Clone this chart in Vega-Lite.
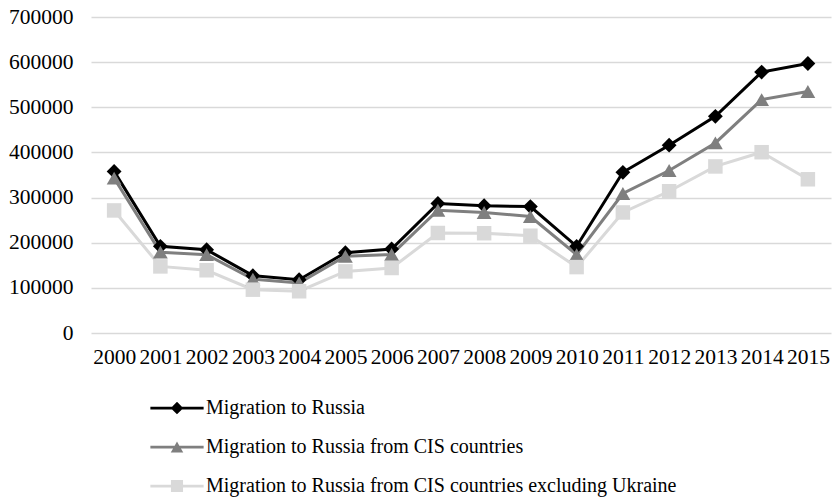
{
  "$schema": "https://vega.github.io/schema/vega-lite/v6.json",
  "width": 740,
  "height": 316,
  "autosize": "none",
  "padding": {"left": 91, "top": 17, "right": 3, "bottom": 166},
  "background": "white",
  "config": {
    "view": {"stroke": null},
    "font": "Liberation Serif",
    "axis": {"labelFont": "Liberation Serif", "labelFontSize": 21.5, "labelColor": "#000000"},
    "legend": {"labelFont": "Liberation Serif", "labelFontSize": 20, "labelColor": "#000000"}
  },
  "data": {
    "values": [
      {"year": "2000", "series": "Migration to Russia", "value": 358000},
      {"year": "2001", "series": "Migration to Russia", "value": 192000},
      {"year": "2002", "series": "Migration to Russia", "value": 184500},
      {"year": "2003", "series": "Migration to Russia", "value": 127000},
      {"year": "2004", "series": "Migration to Russia", "value": 118000},
      {"year": "2005", "series": "Migration to Russia", "value": 178000},
      {"year": "2006", "series": "Migration to Russia", "value": 186000},
      {"year": "2007", "series": "Migration to Russia", "value": 287000},
      {"year": "2008", "series": "Migration to Russia", "value": 282000},
      {"year": "2009", "series": "Migration to Russia", "value": 280000},
      {"year": "2010", "series": "Migration to Russia", "value": 192000},
      {"year": "2011", "series": "Migration to Russia", "value": 356000},
      {"year": "2012", "series": "Migration to Russia", "value": 416000},
      {"year": "2013", "series": "Migration to Russia", "value": 480000},
      {"year": "2014", "series": "Migration to Russia", "value": 578000},
      {"year": "2015", "series": "Migration to Russia", "value": 597000},
      {"year": "2000", "series": "Migration to Russia from CIS countries", "value": 343000},
      {"year": "2001", "series": "Migration to Russia from CIS countries", "value": 179000},
      {"year": "2002", "series": "Migration to Russia from CIS countries", "value": 173500},
      {"year": "2003", "series": "Migration to Russia from CIS countries", "value": 119500},
      {"year": "2004", "series": "Migration to Russia from CIS countries", "value": 111000},
      {"year": "2005", "series": "Migration to Russia from CIS countries", "value": 170000},
      {"year": "2006", "series": "Migration to Russia from CIS countries", "value": 174000},
      {"year": "2007", "series": "Migration to Russia from CIS countries", "value": 272000},
      {"year": "2008", "series": "Migration to Russia from CIS countries", "value": 267000},
      {"year": "2009", "series": "Migration to Russia from CIS countries", "value": 258000},
      {"year": "2010", "series": "Migration to Russia from CIS countries", "value": 173500},
      {"year": "2011", "series": "Migration to Russia from CIS countries", "value": 309000},
      {"year": "2012", "series": "Migration to Russia from CIS countries", "value": 360000},
      {"year": "2013", "series": "Migration to Russia from CIS countries", "value": 421000},
      {"year": "2014", "series": "Migration to Russia from CIS countries", "value": 517000},
      {"year": "2015", "series": "Migration to Russia from CIS countries", "value": 535000},
      {"year": "2000", "series": "Migration to Russia from CIS countries excluding Ukraine", "value": 271500},
      {"year": "2001", "series": "Migration to Russia from CIS countries excluding Ukraine", "value": 147500},
      {"year": "2002", "series": "Migration to Russia from CIS countries excluding Ukraine", "value": 139000},
      {"year": "2003", "series": "Migration to Russia from CIS countries excluding Ukraine", "value": 96000},
      {"year": "2004", "series": "Migration to Russia from CIS countries excluding Ukraine", "value": 92500},
      {"year": "2005", "series": "Migration to Russia from CIS countries excluding Ukraine", "value": 136500},
      {"year": "2006", "series": "Migration to Russia from CIS countries excluding Ukraine", "value": 144000},
      {"year": "2007", "series": "Migration to Russia from CIS countries excluding Ukraine", "value": 221500},
      {"year": "2008", "series": "Migration to Russia from CIS countries excluding Ukraine", "value": 221000},
      {"year": "2009", "series": "Migration to Russia from CIS countries excluding Ukraine", "value": 215500},
      {"year": "2010", "series": "Migration to Russia from CIS countries excluding Ukraine", "value": 146000},
      {"year": "2011", "series": "Migration to Russia from CIS countries excluding Ukraine", "value": 267000},
      {"year": "2012", "series": "Migration to Russia from CIS countries excluding Ukraine", "value": 314000},
      {"year": "2013", "series": "Migration to Russia from CIS countries excluding Ukraine", "value": 369000},
      {"year": "2014", "series": "Migration to Russia from CIS countries excluding Ukraine", "value": 400500},
      {"year": "2015", "series": "Migration to Russia from CIS countries excluding Ukraine", "value": 340500}
    ]
  },
  "encoding": {
    "x": {
      "field": "year",
      "type": "ordinal",
      "title": null,
      "scale": {"type": "point", "padding": 0.5},
      "axis": {"labelAngle": 0, "domain": false, "ticks": false, "tickSize": 0, "labelPadding": 13, "grid": false}
    },
    "y": {
      "field": "value",
      "type": "quantitative",
      "title": null,
      "scale": {"domain": [0, 700000], "nice": false, "zero": true},
      "axis": {
        "values": [0, 100000, 200000, 300000, 400000, 500000, 600000, 700000],
        "format": "d",
        "domain": false,
        "ticks": false,
        "tickSize": 0,
        "labelPadding": 18,
        "grid": true,
        "gridColor": "#d9d9d9",
        "gridWidth": 1.5
      }
    },
    "color": {
      "field": "series",
      "type": "nominal",
      "scale": {
        "domain": ["Migration to Russia", "Migration to Russia from CIS countries", "Migration to Russia from CIS countries excluding Ukraine"],
        "range": ["#000000", "#7f7f7f", "#d9d9d9"]
      },
      "legend": {
        "title": null,
        "orient": "none",
        "legendX": 75,
        "legendY": 380,
        "direction": "vertical",
        "padding": 0,
        "symbolSize": 484,
        "symbolType": {"expr": "datum.value === 'Migration to Russia' ? 'M-2.42,-0.125L-0.445,-0.125L0,-0.57L0.445,-0.125L2.42,-0.125L2.42,0.125L0.445,0.125L0,0.57L-0.445,0.125L-2.42,0.125Z' : (datum.value === 'Migration to Russia from CIS countries' ? 'M-2.42,-0.125L-0.214,-0.125L0,-0.5L0.214,-0.125L2.42,-0.125L2.42,0.125L0.356,0.125L0.57,0.5L-0.57,0.5L-0.356,0.125L-2.42,0.125Z' : 'M-2.42,-0.125L-0.55,-0.125L-0.55,-0.55L0.55,-0.55L0.55,-0.125L2.42,-0.125L2.42,0.125L0.55,0.125L0.55,0.55L-0.55,0.55L-0.55,0.125L-2.42,0.125Z')"},
        "symbolStrokeWidth": 0,
        "symbolFillColor": "#000000",
        "labelOffset": 18,
        "rowPadding": 18,
        "labelLimit": 600,
        "encode": {
          "symbols": {
            "enter": {
              "fill": {"scale": "color", "field": "value"},
              "fillOpacity": {"value": 1},
              "strokeWidth": {"value": 0}
            },
            "update": {
              "fill": {"scale": "color", "field": "value"},
              "fillOpacity": {"value": 1},
              "strokeWidth": {"value": 0},
              "opacity": {"value": 1}
            }
          }
        }
      }
    }
  },
  "layer": [
    {"mark": {"type": "line", "strokeWidth": 3}},
    {
      "transform": [{"filter": "datum.series === 'Migration to Russia'"}],
      "mark": {"type": "point", "filled": true, "size": 220, "opacity": 1, "shape": "diamond"}
    },
    {
      "transform": [{"filter": "datum.series === 'Migration to Russia from CIS countries'"}],
      "mark": {"type": "point", "filled": true, "size": 220, "opacity": 1, "shape": "triangle-up"}
    },
    {
      "transform": [{"filter": "datum.series === 'Migration to Russia from CIS countries excluding Ukraine'"}],
      "mark": {"type": "point", "filled": true, "size": 210, "opacity": 1, "shape": "square"}
    }
  ]
}
